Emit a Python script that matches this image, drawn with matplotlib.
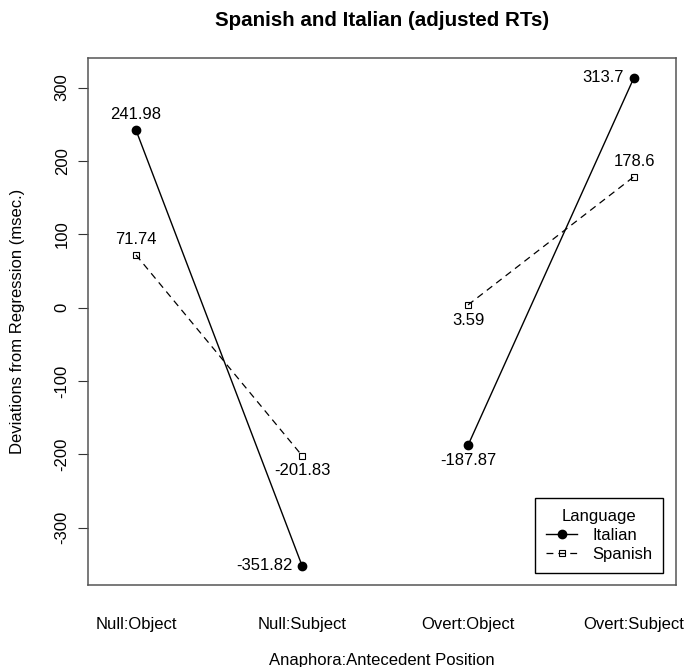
import matplotlib
matplotlib.use('Agg')
import matplotlib.pyplot as plt
from matplotlib.lines import Line2D

plt.rcParams['font.family'] = ['Liberation Sans', 'DejaVu Sans']
plt.rcParams['font.size'] = 12

# data
conditions = ['Null:Object', 'Null:Subject', 'Overt:Object', 'Overt:Subject']
italian = [241.98, -351.82, -187.87, 313.7]
spanish = [71.74, -201.83, 3.59, 178.6]
italian_pos = ['above', 'left', 'below', 'left']
spanish_pos = ['above', 'below', 'below', 'above']
yticks = [-300, -200, -100, 0, 100, 200, 300]

xs = list(range(1, len(conditions) + 1))
dash = (0, (5.5, 4))

fig = plt.figure(figsize=(6.85, 6.67), dpi=100)
ax = fig.add_axes([0.1285, 0.1229, 0.8584, 0.7901])

# lines join within Null and within Overt only
for i in (0, 2):
    ax.plot(xs[i:i+2], italian[i:i+2], color='black', lw=1,
            marker='o', ms=6, mfc='black', mec='black')
    ax.plot(xs[i:i+2], spanish[i:i+2], color='black', lw=0.9, ls=dash,
            marker='s', ms=5, mfc='none', mec='black', mew=0.8)

offsets = {'above': ((0, 11), 'center', 'center'),
           'below': ((0, -11), 'center', 'center'),
           'left': ((-7, 0), 'right', 'center')}

def label_points(vals, positions):
    for x, v, p in zip(xs, vals, positions):
        off, ha, va = offsets[p]
        ax.annotate(f'{v:g}', (x, v), xytext=off, textcoords='offset points',
                    ha=ha, va=va, fontsize=12)

label_points(italian, italian_pos)
label_points(spanish, spanish_pos)

ax.set_xlim(0.711, 4.253)
ax.set_ylim(-378.4, 340.3)
ax.set_xticks(xs)
ax.set_xticklabels(conditions)
ax.tick_params(axis='x', length=0, pad=23)
ax.set_yticks(yticks)
ax.set_yticklabels([str(t) for t in yticks], rotation=90, va='center')
ax.tick_params(axis='y', length=7.2, width=0.8, pad=6, color='#333333')
for s in ax.spines.values():
    s.set_color('#555555')
    s.set_linewidth(1.1)

fig.text(0.558, 0.970, 'Spanish and Italian (adjusted RTs)', ha='center', va='center',
         fontsize=14.8, fontweight='bold')
fig.text(0.558, 1 - 661 / 667, 'Anaphora:Antecedent Position', ha='center', va='center')
fig.text(18 / 685, 0.518, 'Deviations from Regression (msec.)', ha='center', va='center',
         rotation=90)

handles = [Line2D([], [], color='black', lw=1, marker='o', ms=6, mfc='black'),
           Line2D([], [], color='black', lw=0.9, ls=dash, marker='s', ms=5,
                  mfc='none', mew=0.8)]
leg = ax.legend(handles, ['Italian', 'Spanish'], title='Language', loc='lower right',
                bbox_to_anchor=(0.978, 0.023), borderaxespad=0, fancybox=False,
                framealpha=1, edgecolor='black', handlelength=1.85, handletextpad=0.9,
                labelspacing=0.25, borderpad=0.65, fontsize=12, title_fontsize=12)
leg.get_frame().set_linewidth(1)

fig.savefig('out.png', dpi=100)
